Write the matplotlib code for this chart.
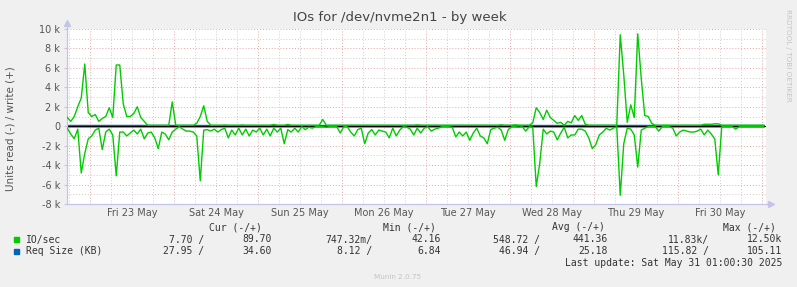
import numpy as np
import pandas as pd
import matplotlib
matplotlib.use("Agg")
import matplotlib.pyplot as plt

# hourly samples, values in k IO/s (read drawn below zero, write above)
io_write_k = [
    0.9, 0.5, 1.0, 2.0, 2.9, 6.4, 1.4, 1.0, 1.2, 0.5, 0.8, 1.0, 1.9, 0.9, 6.3, 6.3, 2.3,
    1.0, 1.0, 1.3, 2.0, 0.9, 0.5, 0.1, 0.1, 0.1, 0.1, 0.1, 0.1, 0.1, 2.5, 0.1, 0.1,
    0.1, 0.1, 0.1, 0.1, 0.3, 1.0, 2.1, 0.5,
    0.1, 0.1, 0.1, 0.1, 0.12, 0.1, 0.1, 0.1, 0.1, 0.12, 0.1, 0.1, 0.1,
    0.1, 0.1, 0.1, 0.1, 0.1, 0.18, 0.1, 0.1, 0.1, 0.18, 0.1, 0.1,
    0.1, 0.1, 0.1, 0.1, 0.1, 0.1, 0.1, 0.7, 0.1, 0.1, 0.1, 0.1, 0.1, 0.1,
    0.1, 0.1, 0.1, 0.1, 0.1, 0.1, 0.1, 0.1, 0.1, 0.1, 0.1, 0.1, 0.1,
    0.1, 0.1, 0.1, 0.1, 0.1,
    0.1, 0.1, 0.14, 0.1, 0.1, 0.1, 0.1, 0.1, 0.1, 0.1, 0.1, 0.1, 0.1,
    0.1, 0.1, 0.1, 0.1, 0.1, 0.1, 0.1, 0.1, 0.1, 0.1, 0.1, 0.1, 0.1,
    0.14, 0.1, 0.1, 0.1, 0.14, 0.1, 0.1, 0.1,
    0.1, 0.35, 1.9, 1.4, 0.7, 1.65, 0.9, 0.6, 0.3, 0.4, 0.1, 0.5, 0.35, 1.1, 0.6, 1.1, 0.2,
    0.1, 0.1, 0.1, 0.1, 0.1, 0.1, 0.1, 0.1, 0.1,
    9.4, 5.3, 0.4, 2.2, 0.9, 9.5, 4.9, 1.1,
    1.0, 0.3, 0.1, 0.1, 0.1, 0.1, 0.1, 0.1, 0.1, 0.1, 0.1, 0.1, 0.1, 0.1,
    0.1, 0.1, 0.2, 0.2, 0.2, 0.25, 0.25,
    0.1, 0.1, 0.1, 0.1, 0.1, 0.1, 0.1, 0.1, 0.1, 0.1, 0.1, 0.1, 0.1,
]
io_read_k = [
    0.2, 0.8, 1.3, 0.3, 4.8, 2.8, 1.3, 1.0, 0.4, 0.2, 2.4, 0.6, 0.3, 0.9, 5.1, 0.6, 0.6,
    1.0, 0.7, 0.4, 0.8, 0.3, 1.3, 0.7, 0.6, 1.2, 2.3, 0.6, 0.8, 1.4, 0.6, 0.3, 0.05,
    0.3, 0.5, 0.5, 0.6, 1.0, 5.6, 0.4, 0.35, 0.5, 0.3, 0.6, 0.35, 0.2, 1.2, 0.4, 0.9,
    0.2, 0.9, 0.3, 1.0, 0.4, 0.6, 0.2, 0.9, 0.3, 1.0, 0.2, 0.6, 0.2, 1.8, 0.35, 0.6, 0.2,
    0.6, 0.05, 0.35, 0.1, 0.2, 0.05, 0.05, 0.05, 0.1, 0.05, 0.05, 0.05, 0.7, 0.05, 0.05,
    0.6, 1.0, 0.35, 0.2, 1.8, 0.7, 0.35, 0.9, 0.4, 0.5, 0.6, 1.2, 0.2, 1.0, 0.4, 0.05, 0.1,
    0.3, 0.9, 0.2, 0.7, 0.2, 0.05, 0.5, 0.3, 0.2, 0.05, 0.05, 0.05, 0.1, 1.1, 0.6, 1.0,
    0.6, 1.45, 0.7, 0.2, 1.0, 1.2, 1.8, 0.35, 0.2, 0.1, 0.4, 1.45, 0.35, 0.05, 0.05, 0.1,
    0.05, 0.5,
    0.05, 0.1, 6.2, 3.8, 0.3, 0.8, 0.5, 0.6, 1.4, 0.7, 0.1, 1.2, 0.9, 0.9, 0.3, 0.3, 0.5,
    1.2, 2.3, 1.9, 0.9, 0.6, 0.2, 0.4, 0.2, 0.05, 7.1, 1.8, 0.2, 0.3, 0.9, 4.2, 0.4, 0.2,
    0.05, 0.05, 0.05, 0.5, 0.05, 0.05, 0.05, 0.2, 1.0, 0.6, 0.4, 0.5, 0.6, 0.6, 0.5, 0.3,
    0.9, 0.4, 0.8, 1.3, 5.0, 0.05, 0.05, 0.05, 0.05, 0.3, 0.05, 0.05, 0.05, 0.05, 0.05,
    0.05, 0.05, 0.05,
]
# request size (KB), a few samples across the week
req_write = [33.1, 35.8, 30.2, 28.4, 31.5, 34.2, 29.8, 36.1, 33.0, 34.6]
req_read = [27.5, 29.1, 24.8, 22.3, 26.9, 30.4, 25.6, 28.7, 26.2, 27.95]

day_labels = ["Fri 23 May", "Sat 24 May", "Sun 25 May", "Mon 26 May",
              "Tue 27 May", "Wed 28 May", "Thu 29 May", "Fri 30 May"]
yticks = [-8000, -6000, -4000, -2000, 0, 2000, 4000, 6000, 8000, 10000]

legend_rows = [
    ("IO/sec", "#00cc00", ["7.70 /", "89.70", "747.32m/", "42.16",
                           "548.72 /", "441.36", "11.83k/", "12.50k"]),
    ("Req Size (KB)", "#0066b3", ["27.95 /", "34.60", "8.12 /", "6.84",
                                  "46.94 /", "25.18", "115.82 /", "105.11"]),
]

W, H = 797, 287
RED = "#e8a6a6"
GRAY = "#cccccc"
AXC = "#c4c4e8"

fig = plt.figure(figsize=(W / 100, H / 100), dpi=100, facecolor="#f0f0f0")
ax = fig.add_axes([67 / W, 1 - 204 / H, (765.5 - 67) / W, 175 / H])
ax.set_facecolor("white")

times = pd.date_range("2025-05-22 17:30", periods=len(io_write_k), freq="h")
t0 = pd.Timestamp("2025-05-22 17:25:40")
t1 = pd.Timestamp("2025-05-31 01:00:00")

# grid
for d in pd.date_range("2025-05-22 18:00", "2025-05-31 00:00", freq="6h"):
    ax.axvline(d, color=RED if d.hour == 0 else GRAY, lw=0.7, ls=(0, (1, 2)), zorder=0)
for v in range(-8000, 10001, 1000):
    ax.axhline(v, color=RED if v % 2000 == 0 else GRAY, lw=0.7, ls=(0, (1, 2)), zorder=0)

ridx = np.linspace(0, len(times) - 1, len(req_write)).astype(int)
ax.plot(times[ridx], req_write, color="#0066b3", lw=1.6, zorder=2)
ax.plot(times[ridx], -np.array(req_read), color="#0066b3", lw=1.6, zorder=2)
ax.axhline(0, color="black", lw=0.7, zorder=2.5)

ax.plot(times, np.array(io_write_k) * 1000, color="#00cc00", lw=1.0, zorder=3)
ax.plot(times, -np.array(io_read_k) * 1000, color="#00cc00", lw=1.0, zorder=3)

ax.set_xlim(t0, t1)
ax.set_ylim(-8000, 10000)
ax.set_yticks(yticks)
ax.set_yticklabels([("%d k" % (v // 1000)) if v else "0" for v in yticks])
noons = pd.date_range("2025-05-23 12:00", periods=len(day_labels), freq="D")
ax.set_xticks(noons)
ax.set_xticklabels(day_labels)
ax.tick_params(axis="y", labelsize=7, colors="#555555", length=2, pad=3, color=AXC)
ax.tick_params(axis="x", labelsize=7, colors="#555555", length=0, pad=3)

for s in ["top", "right"]:
    ax.spines[s].set_visible(False)
for s in ["left", "bottom"]:
    ax.spines[s].set_color(AXC)
    ax.spines[s].set_linewidth(0.9)
ax.plot([0, 0], [1, 1.03], color=AXC, lw=0.9, transform=ax.transAxes, clip_on=False)
ax.plot([1, 1.006], [0, 0], color=AXC, lw=0.9, transform=ax.transAxes, clip_on=False)
ax.plot(0, 1.035, marker="^", ms=4, color=AXC, transform=ax.transAxes, clip_on=False)
ax.plot(1.008, 0, marker=">", ms=4, color=AXC, transform=ax.transAxes, clip_on=False)

def px(x, y):
    return x / W, 1 - y / H

fig.text(*px(400, 18), "IOs for /dev/nvme2n1 - by week", ha="center", va="center",
         fontsize=9.5, color="#444444")
fig.text(*px(11, 129), "Units read (-) / write (+)", rotation=90, ha="center",
         va="center", fontsize=7.5, color="#555555")
fig.text(*px(788, 55), "RRDTOOL / TOBI OETIKER", rotation=270, ha="center",
         va="center", fontsize=5.2, color="#c4c4c4")
fig.text(*px(398, 277), "Munin 2.0.75", ha="center", va="center",
         fontsize=5.2, color="#c4c4c4")

mono = dict(family="DejaVu Sans Mono", fontsize=7, color="#333333", va="center")
for label, right in [("Cur (-/+)", 262), ("Min (-/+)", 436),
                     ("Avg (-/+)", 605), ("Max (-/+)", 776)]:
    fig.text(*px(right, 227.5), label, ha="right", **mono)

col_right = [204, 272, 372, 441, 540, 608, 709, 782]
for k, (name, col, vals) in enumerate(legend_rows):
    yy = 239.5 + 11.8 * k
    fig.patches.append(plt.Rectangle(px(14, yy + 2.6), 5 / W, 5 / H, color=col,
                                     transform=fig.transFigure, figure=fig))
    fig.text(*px(26, yy), name, ha="left", **mono)
    for v, r in zip(vals, col_right):
        fig.text(*px(r, yy), v, ha="right", **mono)
fig.text(*px(782, 263.5), "Last update: Sat May 31 01:00:30 2025", ha="right", **mono)

fig.savefig("out.png", dpi=100, facecolor=fig.get_facecolor())
